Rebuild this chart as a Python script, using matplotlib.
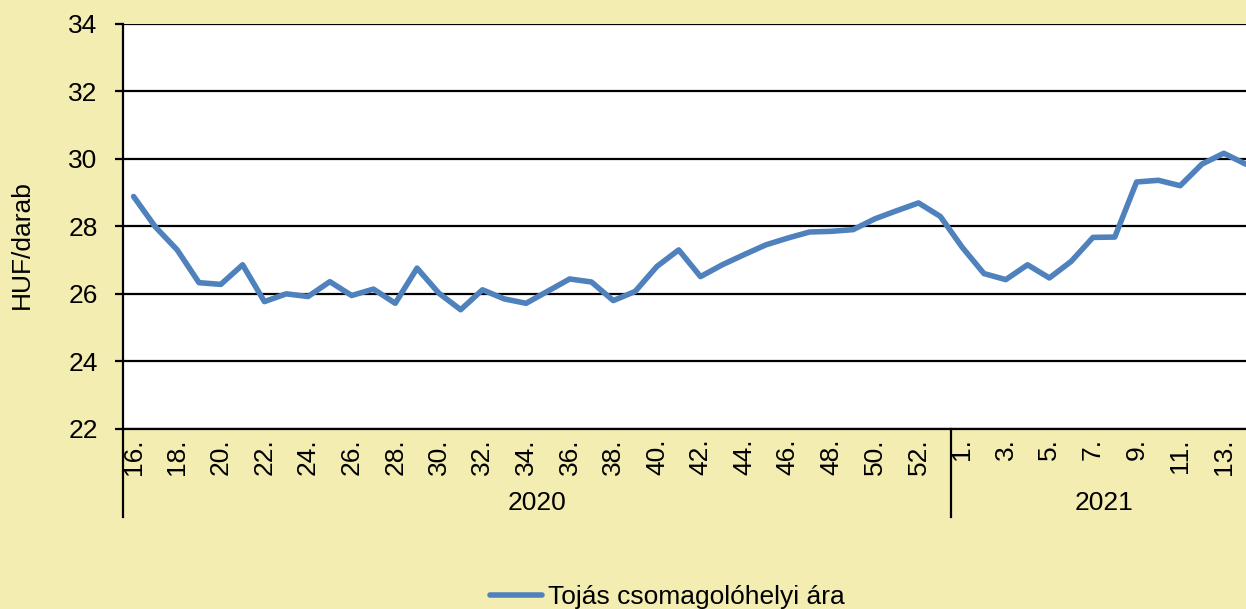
import matplotlib.pyplot as plt
import numpy as np

plt.rcParams['font.family'] = ['Liberation Sans', 'DejaVu Sans']

# weeks and prices (HUF/darab)
weeks_2020 = list(range(16, 54))
weeks_2021 = list(range(1, 15))
price_2020 = [28.88, 27.98, 27.30, 26.33, 26.28, 26.86, 25.77, 26.00, 25.92, 26.36,
              25.95, 26.14, 25.72, 26.76, 26.02, 25.53, 26.12, 25.85, 25.72, 26.08,
              26.44, 26.35, 25.80, 26.07, 26.81, 27.30, 26.51, 26.86, 27.16, 27.45,
              27.65, 27.83, 27.85, 27.90, 28.22, 28.46, 28.69, 28.29]
price_2021 = [27.38, 26.60, 26.42, 26.86, 26.47, 26.96, 27.67, 27.68, 29.31, 29.36,
              29.20, 29.84, 30.16, 29.84]
years = ['2020', '2021']
series_name = 'Tojás csomagolóhelyi ára'

bg = '#F4EDB2'
W, H = 1246, 609
fig = plt.figure(figsize=(W / 100, H / 100), dpi=100, facecolor=bg)

left, right, bottom, top = 122.7, 1256.5, 429, 23.5
ax = fig.add_axes([left / W, (H - bottom) / H, (right - left) / W, (bottom - top) / H])
ax.set_facecolor('white')

values = price_2020 + price_2021
x = np.arange(len(values))
ax.plot(x, values, color='#4F81BD', lw=4, solid_capstyle='round', solid_joinstyle='round',
        label=series_name, zorder=3)

ax.set_xlim(-0.5, len(values) - 0.5)
ax.set_ylim(22, 34)
ax.set_yticks(np.arange(22, 35, 2))
ax.grid(axis='y', color='black', lw=1.6)
ax.set_axisbelow(True)

for s in ['top', 'right']:
    ax.spines[s].set_visible(False)
ax.spines['left'].set_linewidth(1.6)
ax.spines['bottom'].set_linewidth(1.6)

# tick labels every other week
pos, labs = [], []
for i, w in enumerate(weeks_2020):
    if i % 2 == 0:
        pos.append(i)
        labs.append(f'{w}.')
n20 = len(weeks_2020)
for i, w in enumerate(weeks_2021):
    if i % 2 == 0:
        pos.append(n20 + i)
        labs.append(f'{w}.')
ax.set_xticks(pos)
ax.set_xticklabels(labs, rotation=90, fontsize=19)
ax.tick_params(axis='x', length=0, pad=6.5)
ax.tick_params(axis='y', length=6, width=1.6, pad=12, labelsize=19, direction='out')

# year groups
trans = ax.get_xaxis_transform()
sep_y = -(517 - 429) / (bottom - top)
groups = [(-0.5, n20 - 0.5), (n20 - 0.5, len(values) - 0.5)]
for (a, b), yr in zip(groups, years):
    ax.text((a + b) / 2, -(503 - 429) / (bottom - top), yr, transform=trans,
            ha='center', va='center', fontsize=19)
    ax.plot([a, a], [0, sep_y], transform=trans, color='black', lw=1.6, clip_on=False)

fig.text(22 / W, (H - 245) / H, 'HUF/darab', rotation=90, ha='center', va='center', fontsize=19)

fig.legend(loc='center', bbox_to_anchor=(667 / W, 12 / H), frameon=False, fontsize=19,
           handlelength=2.0, handletextpad=0.2)

fig.savefig('out.png', dpi=100, facecolor=bg)
